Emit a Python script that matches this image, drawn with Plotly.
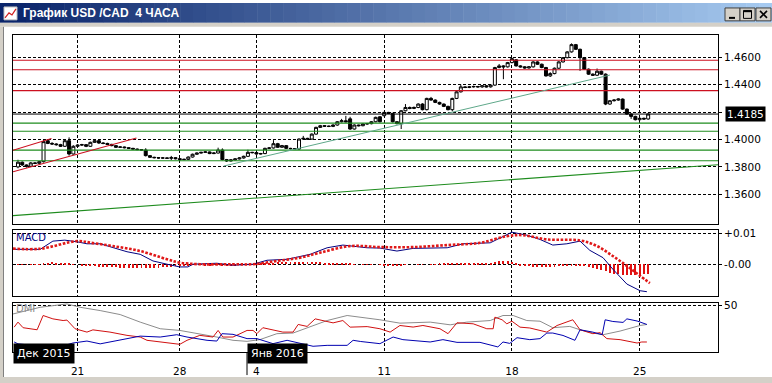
import plotly.graph_objects as go

W, H = 772, 383

# ---------------- data ----------------
bar_index = list(range(149))
opens = [1.3800, 1.3834, 1.3814, 1.3805, 1.3829, 1.3826, 1.3838, 1.3991, 1.3971, 1.3967,
         1.3962, 1.3950, 1.3991, 1.3894, 1.3950, 1.3959, 1.3962, 1.3950, 1.3979, 1.3991,
         1.3974, 1.3971, 1.3964, 1.3955, 1.3943, 1.3945, 1.3940, 1.3935, 1.3930, 1.3926,
         1.3923, 1.3882, 1.3870, 1.3867, 1.3865, 1.3865, 1.3863, 1.3867, 1.3860, 1.3853,
         1.3855, 1.3872, 1.3892, 1.3901, 1.3906, 1.3909, 1.3897, 1.3901, 1.3923, 1.3853,
         1.3843, 1.3851, 1.3858, 1.3865, 1.3877, 1.3906, 1.3904, 1.3894, 1.3897, 1.3935,
         1.3938, 1.3969, 1.3943, 1.3955, 1.3935, 1.3933, 1.3930, 1.4003, 1.4008, 1.4003,
         1.4039, 1.4088, 1.4100, 1.4097, 1.4095, 1.4105, 1.4129, 1.4136, 1.4150, 1.4076,
         1.4105, 1.4100, 1.4113, 1.4115, 1.4129, 1.4165, 1.4173, 1.4197, 1.4190, 1.4129,
         1.4115, 1.4209, 1.4233, 1.4226, 1.4233, 1.4258, 1.4217, 1.4299, 1.4287, 1.4270,
         1.4258, 1.4241, 1.4217, 1.4299, 1.4347, 1.4383, 1.4379, 1.4383, 1.4386, 1.4383,
         1.4391, 1.4383, 1.4396, 1.4524, 1.4536, 1.4529, 1.4560, 1.4580, 1.4536, 1.4529,
         1.4521, 1.4529, 1.4565, 1.4548, 1.4524, 1.4463, 1.4480, 1.4519, 1.4565, 1.4596,
         1.4638, 1.4691, 1.4657, 1.4596, 1.4512, 1.4476, 1.4468, 1.4497, 1.4476, 1.4258,
         1.4282, 1.4287, 1.4294, 1.4221, 1.4185, 1.4168, 1.4144, 1.4154, 1.4149]
highs = [1.3852, 1.3840, 1.3818, 1.3835, 1.3834, 1.3842, 1.3995, 1.4003, 1.3980, 1.3972,
         1.3968, 1.3998, 1.4015, 1.3958, 1.3965, 1.3968, 1.3966, 1.3984, 1.3998, 1.4003,
         1.3980, 1.3976, 1.3968, 1.3958, 1.3950, 1.3948, 1.3943, 1.3939, 1.3934, 1.3930,
         1.3936, 1.3886, 1.3874, 1.3871, 1.3870, 1.3869, 1.3880, 1.3871, 1.3864, 1.3860,
         1.3876, 1.3897, 1.3905, 1.3910, 1.3914, 1.3912, 1.3906, 1.3940, 1.3935, 1.3858,
         1.3856, 1.3862, 1.3870, 1.3882, 1.3925, 1.3910, 1.3908, 1.3902, 1.3940, 1.3944,
         1.3995, 1.3975, 1.3960, 1.3958, 1.3939, 1.3937, 1.4008, 1.4026, 1.4012, 1.4044,
         1.4093, 1.4106, 1.4104, 1.4101, 1.4110, 1.4134, 1.4150, 1.4172, 1.4165, 1.4110,
         1.4108, 1.4118, 1.4120, 1.4134, 1.4166, 1.4170, 1.4202, 1.4201, 1.4194, 1.4133,
         1.4214, 1.4258, 1.4240, 1.4240, 1.4263, 1.4264, 1.4304, 1.4310, 1.4292, 1.4275,
         1.4262, 1.4246, 1.4304, 1.4352, 1.4400, 1.4388, 1.4390, 1.4392, 1.4390, 1.4396,
         1.4396, 1.4401, 1.4529, 1.4550, 1.4541, 1.4565, 1.4596, 1.4585, 1.4541, 1.4534,
         1.4534, 1.4570, 1.4570, 1.4553, 1.4529, 1.4490, 1.4524, 1.4570, 1.4601, 1.4643,
         1.4700, 1.4696, 1.4662, 1.4601, 1.4517, 1.4481, 1.4517, 1.4502, 1.4481, 1.4287,
         1.4292, 1.4299, 1.4299, 1.4226, 1.4190, 1.4173, 1.4159, 1.4159, 1.4190]
lows = [1.3790, 1.3808, 1.3795, 1.3800, 1.3820, 1.3822, 1.3832, 1.3966, 1.3960, 1.3955,
        1.3945, 1.3945, 1.3882, 1.3890, 1.3944, 1.3952, 1.3944, 1.3946, 1.3975, 1.3968,
        1.3965, 1.3960, 1.3950, 1.3938, 1.3939, 1.3935, 1.3931, 1.3926, 1.3922, 1.3918,
        1.3876, 1.3865, 1.3862, 1.3860, 1.3860, 1.3858, 1.3850, 1.3855, 1.3848, 1.3849,
        1.3850, 1.3868, 1.3888, 1.3897, 1.3902, 1.3893, 1.3893, 1.3898, 1.3848, 1.3836,
        1.3839, 1.3847, 1.3854, 1.3860, 1.3873, 1.3898, 1.3889, 1.3890, 1.3893, 1.3930,
        1.3934, 1.3938, 1.3940, 1.3931, 1.3928, 1.3926, 1.3926, 1.3998, 1.3998, 1.3999,
        1.4035, 1.4084, 1.4092, 1.4090, 1.4090, 1.4100, 1.4124, 1.4124, 1.4070, 1.4072,
        1.4095, 1.4096, 1.4108, 1.4110, 1.4125, 1.4124, 1.4168, 1.4185, 1.4124, 1.4110,
        1.4076, 1.4205, 1.4220, 1.4221, 1.4228, 1.4212, 1.4212, 1.4282, 1.4265, 1.4253,
        1.4236, 1.4212, 1.4205, 1.4294, 1.4342, 1.4374, 1.4374, 1.4378, 1.4378, 1.4376,
        1.4378, 1.4378, 1.4391, 1.4519, 1.4439, 1.4524, 1.4555, 1.4531, 1.4524, 1.4516,
        1.4516, 1.4524, 1.4543, 1.4519, 1.4458, 1.4455, 1.4475, 1.4514, 1.4560, 1.4591,
        1.4633, 1.4652, 1.4500, 1.4507, 1.4471, 1.4463, 1.4463, 1.4471, 1.4250, 1.4253,
        1.4277, 1.4282, 1.4216, 1.4180, 1.4150, 1.4139, 1.4139, 1.4144, 1.4144]
closes = [1.3834, 1.3814, 1.3805, 1.3829, 1.3826, 1.3838, 1.3984, 1.3971, 1.3967, 1.3962,
          1.3950, 1.3991, 1.3894, 1.3950, 1.3959, 1.3962, 1.3950, 1.3979, 1.3991, 1.3974,
          1.3971, 1.3964, 1.3955, 1.3943, 1.3945, 1.3940, 1.3935, 1.3930, 1.3926, 1.3923,
          1.3882, 1.3870, 1.3867, 1.3865, 1.3865, 1.3863, 1.3867, 1.3860, 1.3853, 1.3855,
          1.3872, 1.3892, 1.3901, 1.3906, 1.3909, 1.3897, 1.3901, 1.3923, 1.3853, 1.3843,
          1.3851, 1.3858, 1.3865, 1.3877, 1.3906, 1.3904, 1.3894, 1.3897, 1.3935, 1.3938,
          1.3969, 1.3943, 1.3955, 1.3935, 1.3933, 1.3930, 1.4003, 1.4008, 1.4003, 1.4039,
          1.4088, 1.4100, 1.4097, 1.4095, 1.4105, 1.4129, 1.4136, 1.4129, 1.4076, 1.4105,
          1.4100, 1.4113, 1.4115, 1.4129, 1.4161, 1.4129, 1.4197, 1.4190, 1.4129, 1.4115,
          1.4209, 1.4233, 1.4226, 1.4233, 1.4258, 1.4217, 1.4299, 1.4287, 1.4270, 1.4258,
          1.4241, 1.4217, 1.4299, 1.4347, 1.4383, 1.4379, 1.4383, 1.4386, 1.4383, 1.4391,
          1.4383, 1.4396, 1.4524, 1.4536, 1.4529, 1.4560, 1.4589, 1.4536, 1.4529, 1.4521,
          1.4529, 1.4565, 1.4548, 1.4524, 1.4463, 1.4480, 1.4519, 1.4565, 1.4596, 1.4638,
          1.4691, 1.4657, 1.4596, 1.4512, 1.4476, 1.4468, 1.4497, 1.4476, 1.4258, 1.4282,
          1.4287, 1.4294, 1.4221, 1.4185, 1.4168, 1.4144, 1.4154, 1.4149, 1.4185]

last_price = 1.4185
red_levels = [1.4577, 1.4508, 1.4356]
green_levels = [1.4119, 1.4060, 1.3922, 1.3845]
# trend lines: (index0, price0, index1, price1)
channel_upper = (-1.17, 1.3921, 7.87, 1.4007)
channel_lower = (-1.17, 1.3765, 27.83, 1.4011)
thin_trend = (48.3, 1.3806, 139.0, 1.4469)
long_trend = (-1.17, 1.3445, 164.4, 1.3816)

date_tick_index = [14, 38, 56, 86, 116, 146]
date_tick_text = ["21", "28", "4", "11", "18", "25"]
price_ticks = [1.36, 1.38, 1.40, 1.42, 1.44, 1.46]
price_tick_text = ["1.3600", "1.3800", "1.4000", "", "1.4400", "1.4600"]

macd_idx = [-1.2, 5.2, 8.2, 11.0, 13.9, 16.2, 19.3, 22.3, 25.6, 28.7, 31.7, 35, 38, 39.9, 41.1,
            46.7, 50.5, 55.2, 58.5, 63.2, 68.6, 72.6, 76.3, 82, 85, 89, 92.8, 100.8, 104.5,
            110.9, 113.2, 116, 119.5, 122.6, 125.6, 128.9, 132, 134.3, 137.4, 139.7, 143,
            146.1, 147.7]
macd_val = [0.00486, 0.00486, 0.00748, 0.00779, 0.00726, 0.00663, 0.00663, 0.00536, 0.0041,
            0.00328, 0.00117, 0.00013, -0.00073, -0.00073, 0.00013, 0.00044, -0.00019, 0.00013,
            0.00139, 0.0017, 0.00328, 0.00536, 0.00622, 0.00536, 0.00527, 0.00432, 0.00517,
            0.00536, 0.00663, 0.00694, 0.00852, 0.01032, 0.00937, 0.00801, 0.00622, 0.00663,
            0.00748, 0.00454, 0.00221, -0.00145, -0.00618, -0.0083, -0.00861]
signal_idx = [-1.2, 5.2, 13.9, 17.6, 22.3, 28.7, 35, 38, 42.7, 50.5, 55.2, 60.8, 66.2, 70.9,
              78, 85, 92.8, 100.8, 108.5, 114.8, 118.6, 124.2, 132, 136, 139.7, 143, 146.1,
              148.4]
signal_val = [0.00511, 0.00505, 0.00748, 0.00685, 0.0059, 0.00432, 0.0017, 0.00063, 0.00013,
              0.00013, 0.00013, 0.00117, 0.00221, 0.00379, 0.0059, 0.00558, 0.00558, 0.00622,
              0.00694, 0.00905, 0.00937, 0.00801, 0.0077, 0.0059, 0.00274, -0.00041, -0.00357,
              -0.00587]
macd_hist = [0.0001, 0.0001, 0.0001, 0.0001, 0.0001, 0.0001,
             0.0005, 0.0006, 0.0007, 0.0006, 0.0005, 0.0004,
             0.0002, 0.0001, 0.0000,
             -0.0003, -0.0005, -0.0006, -0.0006, -0.0007, -0.0007, -0.0008, -0.0008,
             -0.0009, -0.0010, -0.0010, -0.0011, -0.0011, -0.0011, -0.0012, -0.0012, -0.0011,
             -0.0011, -0.0010,
             -0.0009, -0.0008, -0.0007, -0.0006,
             -0.0004, -0.0003, -0.0002, -0.0001, 0.0000, -0.0001, -0.0002, -0.0002, -0.0001,
             0.0001, -0.0002, -0.0003, -0.0003, -0.0002, -0.0001, 0.0000, 0.0001, 0.0001, 0.0002,
             0.0003, 0.0004, 0.0005, 0.0006, 0.0007, 0.0007, 0.0008, 0.0008, 0.0008, 0.0009,
             0.0009, 0.0008, 0.0008, 0.0007, 0.0007, 0.0006, 0.0006, 0.0005, 0.0004, 0.0003, 0.0003,
             0.0002, 0.0001, 0.0000, -0.0001, -0.0001, -0.0001, 0.0000,
             -0.0001, -0.0002, -0.0002, -0.0003, -0.0003, -0.0002, -0.0001, 0.0000, 0.0000,
             0.0001, 0.0001, 0.0000, 0.0001, 0.0001, 0.0002, 0.0002, 0.0002, 0.0003, 0.0003,
             0.0004, 0.0004, 0.0004, 0.0003, 0.0003, 0.0004, 0.0004,
             0.0006, 0.0008, 0.0010, 0.0011, 0.0010, 0.0008, 0.0005,
             -0.0002, -0.0004, -0.0006, -0.0008, -0.0009, -0.0009, -0.0009, -0.0008, -0.0007,
             -0.0006, -0.0005, -0.0004, -0.0003,
             -0.0003, -0.0004, -0.0006,
             -0.0009, -0.0011, -0.0014, -0.0017,
             -0.0022, -0.0026, -0.0029,
             -0.0031, -0.0033, -0.0034, -0.0034, -0.0033, -0.0033, -0.0032, -0.0031]

adx_idx = [-1.2, 5.2, 11.5, 14.6, 19.3, 24, 28.7, 33.4, 38, 42.7, 46.7, 50.5, 53.8, 56.8, 60.8,
           64.6, 68.6, 72.6, 77.3, 82, 85, 89.7, 96.8, 101.5, 105.4, 110.9, 113.9, 116.3, 119.5,
           122.6, 125.6, 129.6, 132, 135, 137.4, 141.4, 146.1, 147.7]
adx_val = [41, 48.2, 51.8, 48.2, 44.7, 40.4, 32.3, 25.2, 23.4, 19.9, 16.3, 12.8, 11.7, 13.5, 19.9,
           20.6, 27.7, 34, 39.4, 36.9, 34.8, 31.2, 32.3, 29.4, 32.3, 34, 39.4, 39.4, 34, 33.3,
           26.3, 27.7, 24.1, 20.6, 18.8, 22.7, 28.7, 29.8]
pdi_idx = [-0.9, 0, 1.2, 4.5, 5.9, 8.2, 10.6, 11.5, 13.4, 16.2, 17.6, 21.6, 25.6, 28.7, 30.3, 35,
           38, 39.7, 42.7, 45.8, 47, 48.1, 50.5, 53.8, 55.2, 56.1, 57.5, 62.2, 64.6, 65.8, 67.9,
           69.8, 72.6, 74, 76.3, 78, 82, 85, 87.4, 89.7, 92.8, 95.1, 99.1, 101, 103.1, 106.9,
           110.1, 111.6, 112, 113.7, 114.8, 116, 117.9, 120.2, 124.2, 126.6, 130.3, 132, 135,
           136.7, 138.3, 141.4, 145.4, 146.5, 147.7]
pdi_val = [26.9, 32.3, 26.3, 24.1, 39.4, 35.8, 34, 34.5, 25.2, 21.6, 24, 21.6, 18.1, 16.3, 12.8,
           9.9, 8.5, 12.8, 18.1, 16.3, 23.4, 16.3, 16.3, 23.4, 23.4, 19.9, 26.3, 21.6, 21.6, 29.8,
           27.7, 35.8, 33, 31.5, 34, 26.9, 27.5, 25.2, 21.6, 28.7, 27, 28.7, 25.2, 19.9, 31.6,
           30.5, 25.2, 25.2, 37.6, 34.8, 30.5, 33.3, 26.9, 26, 21.6, 28.7, 34.8, 24.1, 19.9,
           21, 14.6, 13.5, 9.9, 11, 11]
mdi_idx = [-0.9, 0, 3.5, 11.5, 12.9, 16.2, 19.3, 24, 28.7, 33.4, 37.3, 39.7, 44.4, 46.7, 47.9,
           50.5, 53.8, 56.1, 59.9, 63.2, 66.2, 69.3, 72.6, 77.3, 78.7, 80.5, 85, 88.1, 90.4,
           94.4, 96.8, 99.8, 103.1, 108.5, 111.6, 112.7, 113.9, 115.5, 117.2, 120.2, 122.6,
           124.2, 125.6, 128, 130.8, 132, 135, 137.2, 137.9, 139.7, 142.1, 143, 145.4, 147.7]
mdi_val = [11, 9, 7.4, 8, 9.9, 12, 9, 12.8, 17.3, 16.3, 18.8, 16.3, 12.8, 12, 19.9, 19.2, 14.6,
           14.6, 9.2, 12.8, 9.5, 6.4, 7.4, 7.4, 12.8, 11.5, 9.2, 16.3, 13.5, 11.7, 11, 13.5, 10.6,
           10.6, 7.4, 5.7, 11, 9.5, 15.6, 13.5, 14.6, 20.6, 20.6, 18, 12.8, 24.1, 21.6, 18.8,
           34.8, 33, 32, 35.8, 33.5, 29.8]

# ---------------- helpers (pixel -> paper) ----------------
def px(x):
    return x / W


def py(y):
    return 1 - y / H


X_RANGE = [-1.17, 164.4]
XDOM = [px(13), px(718)]
FONT = "DejaVu Sans"
RED = "#cc1020"
GREEN = "#1e8c1e"
GRID_DASH = "3px,2px"

fig = go.Figure()

# horizontal levels and trend lines (as line traces under the candles)
for lv in red_levels:
    fig.add_trace(go.Scatter(x=X_RANGE, y=[lv, lv], mode="lines", line=dict(color=RED, width=1.1),
                             xaxis="x", yaxis="y", hoverinfo="skip"))
for lv in green_levels:
    fig.add_trace(go.Scatter(x=X_RANGE, y=[lv, lv], mode="lines", line=dict(color=GREEN, width=1.1),
                             xaxis="x", yaxis="y", hoverinfo="skip"))
fig.add_trace(go.Scatter(x=X_RANGE, y=[last_price, last_price], mode="lines", line=dict(color="black", width=1),
                         xaxis="x", yaxis="y", hoverinfo="skip"))
for seg, col, wd in [(channel_upper, RED, 1.1), (channel_lower, RED, 1.1),
                     (thin_trend, "#5fa88a", 1), (long_trend, GREEN, 1.1)]:
    fig.add_trace(go.Scatter(x=[seg[0], seg[2]], y=[seg[1], seg[3]], mode="lines",
                             line=dict(color=col, width=wd), xaxis="x", yaxis="y", hoverinfo="skip"))

# candles
fig.add_trace(go.Candlestick(
    x=bar_index, open=opens, high=highs, low=lows, close=closes,
    increasing=dict(line=dict(color="black", width=1), fillcolor="white"),
    decreasing=dict(line=dict(color="black", width=1), fillcolor="black"),
    whiskerwidth=0, xaxis="x", yaxis="y"))

# MACD panel
fig.add_trace(go.Bar(x=bar_index, y=macd_hist, width=0.22, marker=dict(color="#e01010", line=dict(width=0)),
                     xaxis="x2", yaxis="y2"))
fig.add_trace(go.Scatter(x=macd_idx, y=macd_val, mode="lines", line=dict(color="#000080", width=1),
                         xaxis="x2", yaxis="y2"))
fig.add_trace(go.Scatter(x=signal_idx, y=signal_val, mode="lines",
                         line=dict(color="#e01818", width=2.6, dash="2.6px,1.6px", shape="spline"),
                         xaxis="x2", yaxis="y2"))

# DMI panel
fig.add_trace(go.Scatter(x=adx_idx, y=adx_val, mode="lines", line=dict(color="#8c8c8c", width=1),
                         xaxis="x3", yaxis="y3"))
fig.add_trace(go.Scatter(x=pdi_idx, y=pdi_val, mode="lines", line=dict(color="#d01010", width=1),
                         xaxis="x3", yaxis="y3"))
fig.add_trace(go.Scatter(x=mdi_idx, y=mdi_val, mode="lines", line=dict(color="#0000b0", width=1),
                         xaxis="x3", yaxis="y3"))

shapes = []
# ---- window chrome ----
n = 60
c0 = (10, 36, 106)
c1 = (166, 202, 240)
for k in range(n):
    t = k / (n - 1)
    col = "rgb(%d,%d,%d)" % tuple(int(c0[j] + (c1[j] - c0[j]) * t) for j in range(3))
    shapes.append(dict(type="rect", xref="paper", yref="paper", x0=px(k * W / n), x1=px((k + 1) * W / n + 0.5),
                       y0=py(20), y1=py(0), fillcolor=col, line=dict(width=0), layer="above"))
shapes.append(dict(type="rect", xref="paper", yref="paper", x0=0, x1=1, y0=py(24), y1=py(20),
                   fillcolor="#d4d0c8", line=dict(width=0), layer="above"))
shapes.append(dict(type="rect", xref="paper", yref="paper", x0=0, x1=px(3), y0=0, y1=py(24),
                   fillcolor="#d4d0c8", line=dict(width=0), layer="above"))
shapes.append(dict(type="line", xref="paper", yref="paper", x0=px(3.5), x1=px(3.5), y0=py(377), y1=py(24),
                   line=dict(color="#808080", width=1), layer="above"))
shapes.append(dict(type="rect", xref="paper", yref="paper", x0=0, x1=1, y0=0, y1=py(377),
                   fillcolor="#d4d0c8", line=dict(width=0), layer="above"))
# icon
shapes.append(dict(type="rect", xref="paper", yref="paper", x0=px(4), x1=px(17), y0=py(17), y1=py(4),
                   fillcolor="white", line=dict(color="#c0c0c0", width=1), layer="above"))
shapes.append(dict(type="path",
                   path="M %f,%f L %f,%f L %f,%f L %f,%f" % (px(5), py(15), px(9), py(10), px(12), py(12), px(16), py(6)),
                   xref="paper", yref="paper", line=dict(color="#d02020", width=1.2), layer="above"))
# buttons
for bx in [725, 740, 756]:
    shapes.append(dict(type="rect", xref="paper", yref="paper", x0=px(bx), x1=px(bx + 15), y0=py(18), y1=py(5),
                       fillcolor="#d4d0c8", line=dict(color="#404040", width=1), layer="above"))
shapes.append(dict(type="line", xref="paper", yref="paper", x0=px(729), x1=px(735), y0=py(15), y1=py(15),
                   line=dict(color="black", width=2), layer="above"))
shapes.append(dict(type="rect", xref="paper", yref="paper", x0=px(743.5), x1=px(751.5), y0=py(15.5), y1=py(7.5),
                   fillcolor="rgba(0,0,0,0)", line=dict(color="black", width=1), layer="above"))
shapes.append(dict(type="line", xref="paper", yref="paper", x0=px(743.5), x1=px(751.5), y0=py(8.5), y1=py(8.5),
                   line=dict(color="black", width=1.5), layer="above"))
shapes.append(dict(type="line", xref="paper", yref="paper", x0=px(760), x1=px(767), y0=py(8), y1=py(15),
                   line=dict(color="black", width=1.6), layer="above"))
shapes.append(dict(type="line", xref="paper", yref="paper", x0=px(760), x1=px(767), y0=py(15), y1=py(8),
                   line=dict(color="black", width=1.6), layer="above"))
# month separator on date axis
shapes.append(dict(type="line", xref="paper", yref="paper", x0=px(247), x1=px(247), y0=py(375), y1=py(352),
                   line=dict(color="black", width=1), layer="above"))

annotations = [
    dict(text="График USD /CAD\u00a0 4 ЧАСА", xref="paper", yref="paper", x=px(21), y=py(10.5),
         xanchor="left", yanchor="middle", showarrow=False,
         font=dict(family="Liberation Sans", size=12, color="white", weight="bold")),
    dict(text="MACD", xref="paper", yref="paper", x=px(14), y=py(236), xanchor="left", yanchor="middle",
         showarrow=False, font=dict(family=FONT, size=10, color="#000080")),
    dict(text="DMI", xref="paper", yref="paper", x=px(14), y=py(308), xanchor="left", yanchor="middle",
         showarrow=False, font=dict(family=FONT, size=10, color="#8c8c8c")),
    dict(text="Дек 2015", xref="paper", yref="paper", x=px(13), y=py(353.5), xanchor="left", yanchor="middle",
         showarrow=False, bgcolor="black", borderpad=3, font=dict(family=FONT, size=11, color="white")),
    dict(text="Янв 2016", xref="paper", yref="paper", x=px(247), y=py(353.5), xanchor="left", yanchor="middle",
         showarrow=False, bgcolor="black", borderpad=3, font=dict(family=FONT, size=11, color="white")),
    dict(text="%.4f" % last_price, xref="paper", yref="y", x=px(725), y=last_price, xanchor="left",
         yanchor="middle", showarrow=False, bgcolor="black", borderpad=1,
         font=dict(family=FONT, size=10.5, color="white")),
]

xcommon = dict(range=X_RANGE, domain=XDOM, showline=True, mirror=True, linecolor="black", linewidth=1,
               showgrid=True, gridcolor="black", griddash=GRID_DASH, gridwidth=1,
               tickmode="array", tickvals=date_tick_index, zeroline=False, fixedrange=True)
ycommon = dict(side="right", showline=True, mirror=True, linecolor="black", linewidth=1,
               showgrid=True, gridcolor="black", griddash=GRID_DASH, gridwidth=1, zeroline=False,
               ticks="outside", ticklen=3, tickcolor="black", tickmode="array",
               tickfont=dict(family=FONT, size=10.5, color="black"), fixedrange=True)

fig.update_layout(
    width=W, height=H, margin=dict(l=0, r=0, t=0, b=0), autosize=False,
    paper_bgcolor="white", plot_bgcolor="white", showlegend=False,
    font=dict(family=FONT, size=10.5, color="black"),
    boxgap=0.3, boxgroupgap=0, bargap=0,
    xaxis=dict(xcommon, anchor="y", showticklabels=False, ticks="", rangeslider=dict(visible=False)),
    xaxis2=dict(xcommon, anchor="y2", showticklabels=False, ticks=""),
    xaxis3=dict(xcommon, anchor="y3", showticklabels=True, ticktext=date_tick_text, ticks="outside",
                ticklen=9, tickcolor="rgba(0,0,0,0)",
                tickfont=dict(family=FONT, size=10.5, color="black")),
    yaxis=dict(ycommon, anchor="x", domain=[py(223), py(32)], range=[1.3382, 1.4763],
               tickvals=price_ticks, ticktext=price_tick_text),
    yaxis2=dict(ycommon, anchor="x2", domain=[py(295), py(229)], range=[-0.00988, 0.01095],
                tickvals=[0.01, 0.0], ticktext=["+0.01", "-0.00"]),
    yaxis3=dict(ycommon, anchor="x3", domain=[py(352), py(302)], range=[0, 53.2],
                tickvals=[50], ticktext=["50"]),
    shapes=shapes, annotations=annotations,
)

fig.write_html("out.html", config={"displayModeBar": False},
               post_script="document.body.style.margin='0';document.body.style.overflow='hidden';")
